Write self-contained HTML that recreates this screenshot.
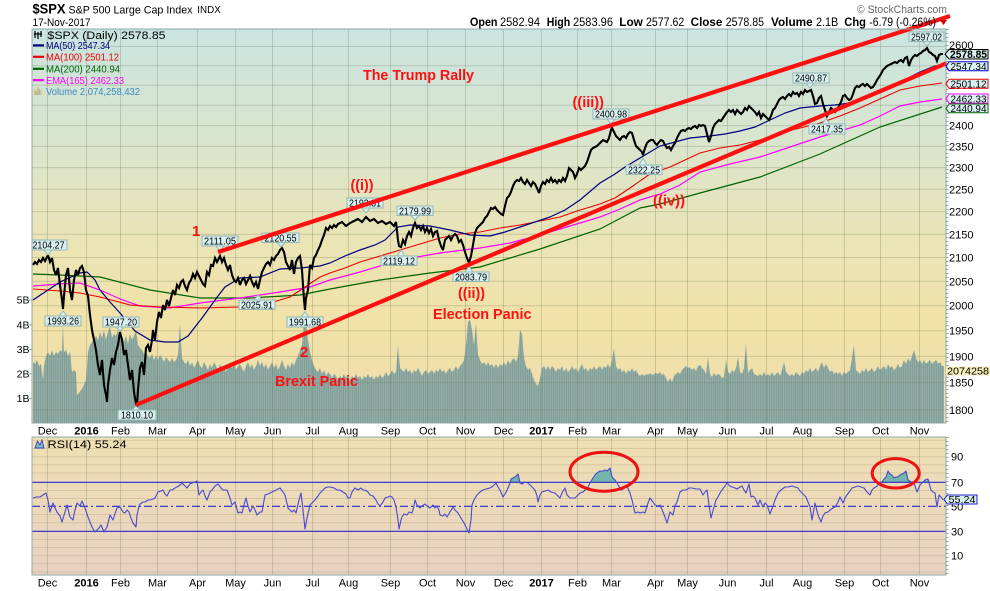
<!DOCTYPE html>
<html><head><meta charset="utf-8"><style>
html,body{margin:0;padding:0;background:#fff;}
svg{display:block;}
text{font-family:"Liberation Sans",Arial,sans-serif;}
</style></head><body>
<svg width="990" height="591" viewBox="0 0 990 591" xmlns="http://www.w3.org/2000/svg">
<defs>
<linearGradient id="mbg" x1="0" y1="0" x2="0" y2="1">
<stop offset="0" stop-color="#c9e4e0"/>
<stop offset="0.3" stop-color="#dbe5cc"/>
<stop offset="0.55" stop-color="#ebe4b5"/>
<stop offset="0.75" stop-color="#f1e2a7"/>
<stop offset="1" stop-color="#eedcaf"/>
</linearGradient>
<linearGradient id="rbg" x1="0" y1="0" x2="0" y2="1">
<stop offset="0" stop-color="#efe0b3"/>
<stop offset="1" stop-color="#e8d2c1"/>
</linearGradient>
<pattern id="vstripe" patternUnits="userSpaceOnUse" width="1.86" height="10">
<rect x="0" y="0" width="1.86" height="10" fill="#7f9d96"/>
<rect x="0" y="0" width="0.6" height="10" fill="#a2b8b2"/>
</pattern>
<clipPath id="mainclip"><rect x="32" y="29" width="914" height="394"/></clipPath>
<clipPath id="obclip"><rect x="32" y="437" width="914" height="45.3"/></clipPath>
</defs>

<rect x="0" y="0" width="990" height="591" fill="#ffffff"/>

<!-- MAIN PANEL -->
<rect x="32" y="29" width="914" height="394" fill="url(#mbg)"/>
<g clip-path="url(#mainclip)">
<!-- volume -->
<polygon fill="url(#vstripe)" points="33,423 33,362 35,364 37,360 39,366 41,364 43,380 44,366 46,356 48,352 50,356 52,350 54,356 56,352 58,354 60,350 62,352 63,325 64,352 66,350 68,356 70,352 72,372 74,370 76,372 77,395 79,393 81,390 83,387 85,382 86,380 88,352 90,345 92,342 94,340 96,336 98,340 100,332 102,338 104,330 106,340 108,332 110,326 112,338 114,334 116,336 118,330 120,340 122,336 124,342 126,336 128,344 130,334 132,340 134,336 136,330 138,345 140,348 142,350 144,354 146,352 148,356 150,358 152,354 154,360 156,356 158,360 160,355 162,358 164,362 166,357 168,360 170,362 172,358 174,362 176,360 178,355 180,323 182,358 184,362 186,364 188,360 190,366 192,362 194,368 196,364 198,360 200,366 202,368 204,362 206,366 208,370 210,364 212,368 214,362 216,366 218,370 220,364 222,368 224,366 226,372 228,366 230,362 232,368 234,364 236,370 238,366 240,364 242,368 244,372 246,366 248,362 250,368 252,364 254,370 256,366 258,360 260,366 262,362 264,368 266,364 268,370 270,366 272,362 274,368 276,364 278,370 280,366 282,360 284,366 286,370 288,364 290,368 292,362 294,366 296,360 298,356 300,350 302,345 304,320 306,322 308,340 310,352 312,360 314,366 316,370 318,372 320,368 322,374 324,370 326,376 328,372 330,374 332,378 334,374 336,376 338,380 340,376 342,378 344,374 346,378 348,376 350,380 352,376 354,378 356,374 358,378 360,376 362,380 364,376 366,378 368,374 370,378 372,376 374,380 376,376 378,378 380,374 382,378 384,376 386,372 388,376 390,374 392,370 394,374 396,372 398,345 400,368 402,370 404,372 406,368 408,372 410,370 412,374 414,370 416,372 418,368 420,372 422,376 424,372 426,370 428,374 430,372 432,370 434,374 436,370 438,372 440,368 442,372 444,370 446,374 448,370 450,368 452,372 454,370 456,366 458,370 460,366 462,364 464,360 466,345 468,322 470,320 472,330 474,345 476,323 478,355 480,360 482,364 484,362 486,366 488,362 490,366 492,364 494,368 496,364 498,368 500,364 502,366 504,362 506,366 508,360 510,364 512,360 514,358 516,362 518,356 520,330 522,334 524,358 526,366 528,370 530,368 532,374 534,380 536,384 538,386 540,378 542,368 544,366 546,370 548,366 550,370 552,366 554,368 556,372 558,368 560,370 562,366 564,372 566,368 568,372 570,370 572,366 574,370 576,368 578,372 580,368 582,364 584,370 586,368 588,372 590,368 592,370 594,366 596,370 598,368 600,366 602,370 604,366 606,368 608,364 610,368 612,360 614,348 616,366 618,370 620,368 622,372 624,370 626,374 628,370 630,372 632,368 634,372 636,370 638,374 640,376 642,374 644,376 646,374 648,375 650,373 652,375 654,374 656,373 658,374 660,372 662,375 664,374 666,378 668,382 670,378 672,382 674,376 676,374 678,372 680,374 682,370 684,368 686,366 688,368 690,367 692,370 694,368 696,371 698,366 700,365 702,368 704,370 706,374 708,357 710,374 712,377 714,373 716,376 718,374 720,375 722,378 724,377 726,360 728,372 730,374 732,370 734,372 736,368 738,357 740,372 742,374 744,368 746,343 748,373 750,370 752,368 754,374 756,375 758,376 760,374 762,376 764,372 766,376 768,374 770,376 772,372 774,376 776,374 778,372 780,376 782,370 784,362 786,372 788,374 790,376 792,374 794,376 796,372 798,374 800,376 802,372 804,374 806,370 808,372 810,368 812,372 814,370 816,368 818,372 820,366 822,362 824,368 826,364 828,368 830,372 832,370 834,374 836,372 838,374 840,372 842,376 844,372 846,374 848,372 850,370 852,358 854,345 856,370 858,372 860,374 862,370 864,372 866,368 868,372 870,370 872,368 874,372 876,370 878,366 880,370 882,368 884,366 886,370 888,364 890,368 892,366 894,370 896,368 898,364 900,368 902,366 904,360 906,364 908,358 910,362 912,356 914,350 916,358 918,362 920,360 922,364 924,360 926,364 928,362 930,360 932,364 934,362 936,360 938,364 940,362 942,366 944,366 944,423"/>

<!-- grid -->
<g stroke="#6b7a5a" stroke-opacity="0.28" stroke-width="1">
<line x1="32" x2="946" y1="46.5" y2="46.5"/><line x1="32" x2="946" y1="65.7" y2="65.7"/><line x1="32" x2="946" y1="85.3" y2="85.3"/><line x1="32" x2="946" y1="105.2" y2="105.2"/><line x1="32" x2="946" y1="125.6" y2="125.6"/><line x1="32" x2="946" y1="146.4" y2="146.4"/><line x1="32" x2="946" y1="167.6" y2="167.6"/><line x1="32" x2="946" y1="189.3" y2="189.3"/><line x1="32" x2="946" y1="211.6" y2="211.6"/><line x1="32" x2="946" y1="234.3" y2="234.3"/><line x1="32" x2="946" y1="257.5" y2="257.5"/><line x1="32" x2="946" y1="281.3" y2="281.3"/><line x1="32" x2="946" y1="305.7" y2="305.7"/><line x1="32" x2="946" y1="330.7" y2="330.7"/><line x1="32" x2="946" y1="356.4" y2="356.4"/><line x1="32" x2="946" y1="382.7" y2="382.7"/><line x1="32" x2="946" y1="409.8" y2="409.8"/>
<line y1="29" y2="423" x1="47.5" x2="47.5"/><line y1="29" y2="423" x1="86.5" x2="86.5"/><line y1="29" y2="423" x1="120.5" x2="120.5"/><line y1="29" y2="423" x1="157.5" x2="157.5"/><line y1="29" y2="423" x1="197.5" x2="197.5"/><line y1="29" y2="423" x1="235.5" x2="235.5"/><line y1="29" y2="423" x1="272.5" x2="272.5"/><line y1="29" y2="423" x1="312.5" x2="312.5"/><line y1="29" y2="423" x1="348.5" x2="348.5"/><line y1="29" y2="423" x1="390.5" x2="390.5"/><line y1="29" y2="423" x1="427.5" x2="427.5"/><line y1="29" y2="423" x1="465.5" x2="465.5"/><line y1="29" y2="423" x1="503.5" x2="503.5"/><line y1="29" y2="423" x1="541.5" x2="541.5"/><line y1="29" y2="423" x1="577.5" x2="577.5"/><line y1="29" y2="423" x1="611.5" x2="611.5"/><line y1="29" y2="423" x1="655.5" x2="655.5"/><line y1="29" y2="423" x1="687.5" x2="687.5"/><line y1="29" y2="423" x1="727.5" x2="727.5"/><line y1="29" y2="423" x1="766.5" x2="766.5"/><line y1="29" y2="423" x1="802.5" x2="802.5"/><line y1="29" y2="423" x1="844.5" x2="844.5"/><line y1="29" y2="423" x1="880.5" x2="880.5"/><line y1="29" y2="423" x1="919.5" x2="919.5"/>
</g>

<!-- moving averages -->
<polyline fill="none" stroke="#006400" stroke-width="1.2" points="33,274 60,275 100,277 150,290 200,298 250,298 300,295 330,289 380,280 430,273 480,267 540,249 600,229 640,208 660,204 700,193 760,177 820,154 880,127 942,107"/>
<polyline fill="none" stroke="#ff00ff" stroke-width="1.2" points="33,286 60,284 80,283 100,290 120,299 140,306 170,308 200,303 240,298 280,292 310,287 330,280 360,272 400,260 440,253 480,248 510,243 540,235 570,226 600,217 620,209 640,200 660,194 680,185 700,172 730,164 760,157 790,147 820,137 840,131 860,125 880,116 900,106 920,102 942,99"/>
<polyline fill="none" stroke="#ee0000" stroke-width="1.1" points="33,289 60,291 80,293 100,297 130,305 160,307 200,308 240,307 270,303 290,297 305,287 320,277 330,273 345,268 360,262 380,256 400,250 420,244 440,238 460,234 480,232 500,228 520,225 540,221 560,217 577,211 600,204 615,198 630,188 650,174 670,167 700,153 720,148 740,145 760,140 780,133 800,128 820,123 840,116 860,108 880,99 900,90 920,86 942,83"/>
<polyline fill="none" stroke="#000080" stroke-width="1.2" points="33,300 45,292 60,282 80,273 87,272 95,280 100,290 110,302 120,313 135,331 150,340 165,342 178,342 188,336 195,327 202,318 210,307 218,296 225,287 240,278 260,277 280,269 300,268 320,266 330,263 345,256 360,250 375,245 385,240 392,233 398,227 410,225 430,226 450,230 470,235 490,236 505,232 520,227 550,217 565,210 580,200 600,183 615,174 625,167 645,155 660,146 675,142 690,138 710,136 725,134 740,131 755,127 770,120 785,113 800,108 810,107 820,106 835,105 850,103 860,100 870,95 885,89 900,82 920,72 935,66 942,65"/>

<!-- price -->
<polyline fill="none" stroke="#000" stroke-width="2.1" stroke-linejoin="miter" stroke-miterlimit="3" points="33,265 35,262 37,264 39,260 41,262 43,258 45,261 47,257 48,255 50,262 52,258 54,270 56,275 58,268 60,285 62,300 63,309 64,296 66,275 68,268 70,290 72,300 74,280 76,270 78,275 80,268 82,266 84,272 86,290 88,296 90,315 92,330 94,340 96,350 98,365 100,375 102,360 104,385 106,395 107,402 108,385 110,370 112,358 114,365 116,352 118,345 120,332 122,340 124,355 126,350 128,365 130,380 132,370 134,392 136,404 137,405 138,390 140,368 142,362 144,375 146,348 148,345 150,352 152,340 153,330 155,340 157,322 159,312 161,318 163,305 165,310 167,300 169,306 171,298 173,290 175,295 177,285 179,288 181,282 183,280 185,286 187,290 189,283 191,280 193,274 195,278 197,272 199,276 201,280 203,284 205,286 207,272 209,275 211,265 213,266 215,258 217,262 219,258 220,256 222,262 224,258 226,265 228,270 230,265 232,275 234,280 236,282 238,278 240,285 242,280 244,278 246,284 248,280 250,276 252,282 254,286 256,282 258,289 260,280 262,272 264,268 266,264 268,262 270,265 272,258 274,260 276,256 278,254 280,250 282,248 284,252 286,262 288,266 290,270 292,260 294,274 296,262 298,258 300,256 302,270 304,300 305,310 306,298 308,290 310,265 312,268 314,258 316,255 318,250 320,246 322,240 324,235 326,228 328,230 330,226 332,228 334,225 336,227 338,224 342,222 346,226 350,223 354,221 358,219 362,222 366,217 370,221 374,219 378,223 382,221 386,224 390,222 394,226 396,222 398,240 399,246 401,247 403,240 405,244 407,236 409,232 411,236 413,228 415,223 417,228 419,226 421,230 423,226 425,232 427,228 429,233 431,229 433,236 435,232 437,231 439,240 441,246 443,250 445,240 447,238 449,236 451,240 453,236 455,234 457,236 459,242 461,240 463,245 465,252 467,258 469,263 471,256 473,245 475,233 477,228 479,226 481,224 483,222 485,218 487,216 489,212 491,208 493,209 495,207 497,210 499,212 501,214 503,215 505,206 507,198 509,196 511,192 513,186 515,182 517,180 519,181 521,178 523,182 525,184 527,180 529,183 531,186 533,182 535,184 537,188 539,193 541,186 543,182 545,184 547,180 549,182 551,178 553,182 555,180 557,183 559,180 561,182 563,178 565,181 567,176 569,168 571,170 573,172 575,178 577,174 579,168 581,170 583,168 585,166 587,162 589,156 591,150 593,148 595,147 597,146 599,144 601,142 603,140 605,141 607,142 609,138 611,130 612,128 614,132 616,136 618,138 620,140 622,137 624,136 626,138 628,134 630,132 632,133 634,140 636,146 638,148 640,150 642,152 643,155 645,148 647,143 649,141 651,140 653,140 655,143 657,145 659,142 661,140 663,141 665,145 667,148 669,147 671,150 673,146 675,143 677,138 679,134 681,131 683,130 685,131 687,129 689,128 691,129 693,127 695,126 697,128 699,125 701,126 703,125 705,126 707,134 709,142 711,136 713,128 715,124 717,122 719,120 721,121 723,118 725,115 727,112 729,110 731,112 733,110 735,114 737,110 739,112 741,114 743,112 745,108 747,110 749,106 751,108 753,110 755,112 757,115 759,112 761,118 763,114 765,116 767,118 769,120 771,116 773,110 775,108 777,104 779,100 781,98 783,97 785,99 787,96 789,94 791,96 793,92 795,94 797,93 799,96 801,92 803,94 805,90 807,92 809,91 811,90 813,96 815,104 817,103 819,98 821,96 823,104 825,110 827,116 829,112 831,108 833,110 835,112 837,110 839,106 841,102 843,96 845,95 847,98 849,100 851,99 853,94 855,88 857,86 859,87 861,85 863,84 865,86 867,84 869,86 871,88 873,87 875,84 877,80 879,77 881,74 883,70 885,68 887,66 889,65 891,64 893,63 895,62 897,63 899,61 901,60 903,62 905,58 907,57 909,66 911,60 913,57 915,55 917,56 919,54 921,53 923,51 925,50 927,48 929,52 931,53 933,55 935,56 937,61 939,55 941,54 943,54"/>

<!-- price label boxes -->
<g font-size="10" fill="#000" text-anchor="middle">
<g fill="#d8f0f0" stroke="#95b6b6" stroke-width="1">
<rect x="30" y="240" width="37" height="10"/><polygon points="44,250 52,250 48,255"/>
<rect x="45" y="316" width="36" height="10"/><polygon points="59,316 67,316 63,311"/>
<rect x="103" y="317" width="36" height="10"/><polygon points="116,327 124,327 120,331"/>
<rect x="118" y="410" width="38" height="10"/><polygon points="132,410 140,410 136,406"/>
<rect x="202" y="236" width="36" height="10"/><polygon points="216,246 224,246 220,251"/>
<rect x="239" y="300" width="36" height="9.5"/><polygon points="254,300 262,300 258,295"/>
<rect x="262" y="233" width="37" height="9.5"/><polygon points="277,242.5 285,242.5 281,247"/>
<rect x="287" y="317" width="36" height="10"/><polygon points="301,317 309,317 305,312"/>
<rect x="347" y="198" width="36" height="10"/><polygon points="362,208 370,208 366,213"/>
<rect x="397" y="206" width="36" height="9.5"/><polygon points="411,215.5 419,215.5 415,220"/>
<rect x="381" y="256" width="36" height="9.5"/><polygon points="397,256 405,256 401,250"/>
<rect x="453" y="272" width="36" height="9.5"/><polygon points="465,272 473,272 469,266"/>
<rect x="593" y="109" width="36" height="10"/><polygon points="607,119 615,119 611,124"/>
<rect x="626" y="165" width="36" height="9.5"/><polygon points="639,165 647,165 643,158"/>
<rect x="793" y="73" width="36" height="10"/><polygon points="806,83 814,83 810,88"/>
<rect x="809" y="124" width="36" height="10"/><polygon points="822,124 830,124 826,119"/>
<rect x="909" y="32" width="35" height="9.5"/><polygon points="923,41.5 931,41.5 927,46"/>
</g>
<g stroke="none">
<text x="48.5" y="248.5" textLength="32" lengthAdjust="spacingAndGlyphs">2104.27</text>
<text x="63" y="324.5" textLength="32" lengthAdjust="spacingAndGlyphs">1993.26</text>
<text x="121" y="325.5" textLength="32" lengthAdjust="spacingAndGlyphs">1947.20</text>
<text x="137" y="418.5" textLength="32" lengthAdjust="spacingAndGlyphs">1810.10</text>
<text x="220" y="244.5" textLength="32" lengthAdjust="spacingAndGlyphs">2111.05</text>
<text x="257" y="308.3" textLength="32" lengthAdjust="spacingAndGlyphs">2025.91</text>
<text x="280.5" y="241.3" textLength="32" lengthAdjust="spacingAndGlyphs">2120.55</text>
<text x="305" y="325.5" textLength="32" lengthAdjust="spacingAndGlyphs">1991.68</text>
<text x="365" y="206.5" textLength="32" lengthAdjust="spacingAndGlyphs">2193.81</text>
<text x="415" y="214.3" textLength="32" lengthAdjust="spacingAndGlyphs">2179.99</text>
<text x="399" y="264.3" textLength="32" lengthAdjust="spacingAndGlyphs">2119.12</text>
<text x="471" y="280.3" textLength="32" lengthAdjust="spacingAndGlyphs">2083.79</text>
<text x="611" y="117.5" textLength="32" lengthAdjust="spacingAndGlyphs">2400.98</text>
<text x="644" y="173.3" textLength="32" lengthAdjust="spacingAndGlyphs">2322.25</text>
<text x="811" y="81.5" textLength="32" lengthAdjust="spacingAndGlyphs">2490.87</text>
<text x="827" y="132.5" textLength="32" lengthAdjust="spacingAndGlyphs">2417.35</text>
<text x="926.5" y="40.3" textLength="31" lengthAdjust="spacingAndGlyphs">2597.02</text>
</g>
</g>
</g>

<!-- trend lines (extend beyond panel top) -->
<line x1="218" y1="252" x2="950" y2="16" stroke="#ff1010" stroke-width="4.2" stroke-linecap="butt"/>
<line x1="136" y1="405" x2="947" y2="63" stroke="#ff1010" stroke-width="4.2" stroke-linecap="butt"/>

<!-- annotations -->
<g fill="#ff1010" font-weight="bold" font-size="15">
<text x="363" y="80" textLength="111" lengthAdjust="spacingAndGlyphs">The Trump Rally</text>
<text x="350.5" y="190" textLength="23" lengthAdjust="spacingAndGlyphs">((i))</text>
<text x="458" y="298" textLength="27" lengthAdjust="spacingAndGlyphs">((ii))</text>
<text x="433" y="319" textLength="98.5" lengthAdjust="spacingAndGlyphs">Election Panic</text>
<text x="572.5" y="107" textLength="31.5" lengthAdjust="spacingAndGlyphs">((iii))</text>
<text x="653" y="205.5" textLength="32" lengthAdjust="spacingAndGlyphs">((iv))</text>
<text x="192" y="236">1</text>
<text x="300" y="357">2</text>
<text x="275" y="386" textLength="83" lengthAdjust="spacingAndGlyphs">Brexit Panic</text>
</g>

<!-- legend -->
<g>
<g stroke="#000" stroke-width="1.2"><line x1="35" y1="31" x2="35" y2="38"/><line x1="38" y1="32" x2="38" y2="39"/><line x1="41" y1="31" x2="41" y2="37"/><line x1="34" y1="34" x2="42" y2="34"/></g>
<text x="47.5" y="39" font-size="11" fill="#000" textLength="118" lengthAdjust="spacingAndGlyphs">$SPX (Daily) 2578.85</text>
<rect x="33" y="44.3" width="11" height="2.2" fill="#000080"/>
<text x="46" y="49" font-size="10" fill="#000080" textLength="64" lengthAdjust="spacingAndGlyphs">MA(50) 2547.34</text>
<rect x="33" y="55.7" width="11" height="2.2" fill="#ee0000"/>
<text x="46" y="60.5" font-size="10" fill="#ee0000" textLength="73" lengthAdjust="spacingAndGlyphs">MA(100) 2501.12</text>
<rect x="33" y="67.7" width="11" height="2.2" fill="#006400"/>
<text x="46" y="72.5" font-size="10" fill="#006400" textLength="74" lengthAdjust="spacingAndGlyphs">MA(200) 2440.94</text>
<rect x="33" y="79" width="11" height="2.2" fill="#ff00ff"/>
<text x="46" y="84" font-size="10" fill="#ff00ff" textLength="78" lengthAdjust="spacingAndGlyphs">EMA(165) 2462.33</text>
<g fill="#e8c060"><rect x="34" y="89" width="1.5" height="6"/><rect x="37" y="87" width="1.5" height="8"/><rect x="40" y="90" width="1.5" height="5"/></g>
<g fill="#7fb0c8"><rect x="35.5" y="91" width="1.2" height="4"/><rect x="38.5" y="89" width="1.2" height="6"/></g>
<text x="46" y="95" font-size="10" fill="#3c8cc0" textLength="94" lengthAdjust="spacingAndGlyphs">Volume 2,074,258,432</text>
</g>

<!-- main panel border -->
<rect x="32" y="29" width="914" height="394" fill="none" stroke="#8fa8a8" stroke-width="1"/>
<line x1="947.5" y1="29" x2="947.5" y2="423" stroke="#8fa8a8" stroke-width="2" stroke-dasharray="1 3"/>

<!-- volume axis labels -->
<g font-size="10.5" fill="#000" text-anchor="end">
<text x="29.5" y="303.5">5B</text><text x="29.5" y="328.5">4B</text><text x="29.5" y="353">3B</text><text x="29.5" y="377.5">2B</text><text x="29.5" y="402">1B</text>
</g>
<g stroke="#8fa8a8"><line x1="29" x2="32" y1="300" y2="300"/><line x1="29" x2="32" y1="325" y2="325"/><line x1="29" x2="32" y1="349.5" y2="349.5"/><line x1="29" x2="32" y1="374" y2="374"/><line x1="29" x2="32" y1="398.5" y2="398.5"/></g>

<!-- price axis labels -->
<g font-size="11" fill="#000">
<text x="949" y="49">2600</text>
<text x="949" y="69.5">2550</text>
<text x="949" y="89">2500</text>
<text x="949" y="109">2450</text>
<text x="949" y="129.6">2400</text>
<text x="949" y="150.4">2350</text>
<text x="949" y="171.6">2300</text>
<text x="949" y="193.3">2250</text>
<text x="949" y="215.6">2200</text>
<text x="949" y="238.3">2150</text>
<text x="949" y="261.5">2100</text>
<text x="949" y="285.3">2050</text>
<text x="949" y="309.7">2000</text>
<text x="949" y="334.7">1950</text>
<text x="949" y="360.4">1900</text>
<text x="949" y="386.7">1850</text>
<text x="949" y="413.8">1800</text>
</g>

<!-- right value boxes -->
<g font-size="10.5">
<polygon points="945,54.2 949,49.5 988,49.5 988,59 949,59" fill="#d8f0f0" stroke="#000" stroke-width="1"/>
<text x="968.5" y="58" text-anchor="middle" font-weight="bold" font-size="11" textLength="37" lengthAdjust="spacingAndGlyphs">2578.85</text>
<polygon points="946,66.2 949,61.7 988,61.7 988,70.7 949,70.7" fill="#d8f0f0" stroke="#0000cc" stroke-width="1"/>
<text x="968.5" y="70" text-anchor="middle" textLength="36" lengthAdjust="spacingAndGlyphs">2547.34</text>
<polygon points="946,83.8 949,79.3 988,79.3 988,88.3 949,88.3" fill="#d8f0f0" stroke="#ee0000" stroke-width="1"/>
<text x="968.5" y="87.6" text-anchor="middle" textLength="36" lengthAdjust="spacingAndGlyphs">2501.12</text>
<polygon points="946,98.7 949,94 988,94 988,103.3 949,103.3" fill="#d8f0f0" stroke="#ff00ff" stroke-width="1"/>
<text x="968.5" y="102.5" text-anchor="middle" textLength="36" lengthAdjust="spacingAndGlyphs">2462.33</text>
<polygon points="946,108.4 949,104 988,104 988,112.7 949,112.7" fill="#d8f0f0" stroke="#006400" stroke-width="1"/>
<text x="968.5" y="112" text-anchor="middle" textLength="36" lengthAdjust="spacingAndGlyphs">2440.94</text>
<rect x="946" y="366.5" width="44" height="9" fill="#f7eebb"/>
<text x="968" y="374.5" text-anchor="middle" textLength="42" lengthAdjust="spacingAndGlyphs">2074258</text>
</g>

<!-- header -->
<text x="32.5" y="13.5" font-size="14" font-weight="bold" textLength="33" lengthAdjust="spacingAndGlyphs">$SPX</text>
<text x="68.5" y="13.3" font-size="11" textLength="124" lengthAdjust="spacingAndGlyphs">S&amp;P 500 Large Cap Index</text>
<text x="197.3" y="13" font-size="10" textLength="23.5" lengthAdjust="spacingAndGlyphs">INDX</text>
<text x="32.5" y="26" font-size="11" textLength="58" lengthAdjust="spacingAndGlyphs">17-Nov-2017</text>
<text x="857" y="13" font-size="11" fill="#666" textLength="90" lengthAdjust="spacingAndGlyphs">© StockCharts.com</text>
<g font-size="11.5" fill="#000">
<text x="470" y="26" font-weight="bold" textLength="27.5" lengthAdjust="spacingAndGlyphs">Open</text>
<text x="500" y="26" textLength="40" lengthAdjust="spacingAndGlyphs">2582.94</text>
<text x="546.7" y="26" font-weight="bold" textLength="23.5" lengthAdjust="spacingAndGlyphs">High</text>
<text x="573" y="26" textLength="40" lengthAdjust="spacingAndGlyphs">2583.96</text>
<text x="619.3" y="26" font-weight="bold" textLength="23.5" lengthAdjust="spacingAndGlyphs">Low</text>
<text x="646" y="26" textLength="38.3" lengthAdjust="spacingAndGlyphs">2577.62</text>
<text x="690.7" y="26" font-weight="bold" textLength="31.6" lengthAdjust="spacingAndGlyphs">Close</text>
<text x="725.7" y="26" textLength="38.3" lengthAdjust="spacingAndGlyphs">2578.85</text>
<text x="771" y="26" font-weight="bold" textLength="41.7" lengthAdjust="spacingAndGlyphs">Volume</text>
<text x="816" y="26" textLength="22.3" lengthAdjust="spacingAndGlyphs">2.1B</text>
<text x="844.3" y="26" font-weight="bold" textLength="21.7" lengthAdjust="spacingAndGlyphs">Chg</text>
<text x="869.3" y="26" textLength="66.7" lengthAdjust="spacingAndGlyphs">-6.79 (-0.26%)</text>
</g>
<polygon points="940,20 947,20 943.5,25" fill="#cc0000"/>

<!-- x axis labels (between panels) -->
<g font-size="11" fill="#000" text-anchor="middle">
<text x="47.5" y="434.5">Dec</text><text x="86.5" y="434.5" font-weight="bold">2016</text><text x="120.5" y="434.5">Feb</text><text x="157.5" y="434.5">Mar</text><text x="197.5" y="434.5">Apr</text><text x="235.5" y="434.5">May</text><text x="272.5" y="434.5">Jun</text><text x="312.5" y="434.5">Jul</text><text x="348.5" y="434.5">Aug</text><text x="390.5" y="434.5">Sep</text><text x="427.5" y="434.5">Oct</text><text x="465.5" y="434.5">Nov</text><text x="503.5" y="434.5">Dec</text><text x="541.5" y="434.5" font-weight="bold">2017</text><text x="577.5" y="434.5">Feb</text><text x="611.5" y="434.5">Mar</text><text x="655.5" y="434.5">Apr</text><text x="687.5" y="434.5">May</text><text x="727.5" y="434.5">Jun</text><text x="766.5" y="434.5">Jul</text><text x="802.5" y="434.5">Aug</text><text x="844.5" y="434.5">Sep</text><text x="880.5" y="434.5">Oct</text><text x="919.5" y="434.5">Nov</text>
</g>

<!-- RSI PANEL -->
<rect x="32" y="437" width="914" height="138" fill="url(#rbg)"/>
<g stroke="#7a6a40" stroke-opacity="0.18" stroke-width="1">
<line x1="32" x2="946" y1="440.3" y2="440.3"/><line x1="32" x2="946" y1="448.5" y2="448.5"/><line x1="32" x2="946" y1="456.7" y2="456.7"/><line x1="32" x2="946" y1="464.8" y2="464.8"/><line x1="32" x2="946" y1="473" y2="473"/><line x1="32" x2="946" y1="490.5" y2="490.5"/><line x1="32" x2="946" y1="498.5" y2="498.5"/><line x1="32" x2="946" y1="514.5" y2="514.5"/><line x1="32" x2="946" y1="522.8" y2="522.8"/><line x1="32" x2="946" y1="539.5" y2="539.5"/><line x1="32" x2="946" y1="547.5" y2="547.5"/><line x1="32" x2="946" y1="555.7" y2="555.7"/><line x1="32" x2="946" y1="563.8" y2="563.8"/><line x1="32" x2="946" y1="572" y2="572"/>
</g>
<g stroke="#6b7a5a" stroke-opacity="0.28" stroke-width="1">
<line y1="437" y2="575" x1="47.5" x2="47.5"/><line y1="437" y2="575" x1="86.5" x2="86.5"/><line y1="437" y2="575" x1="120.5" x2="120.5"/><line y1="437" y2="575" x1="157.5" x2="157.5"/><line y1="437" y2="575" x1="197.5" x2="197.5"/><line y1="437" y2="575" x1="235.5" x2="235.5"/><line y1="437" y2="575" x1="272.5" x2="272.5"/><line y1="437" y2="575" x1="312.5" x2="312.5"/><line y1="437" y2="575" x1="348.5" x2="348.5"/><line y1="437" y2="575" x1="390.5" x2="390.5"/><line y1="437" y2="575" x1="427.5" x2="427.5"/><line y1="437" y2="575" x1="465.5" x2="465.5"/><line y1="437" y2="575" x1="503.5" x2="503.5"/><line y1="437" y2="575" x1="541.5" x2="541.5"/><line y1="437" y2="575" x1="577.5" x2="577.5"/><line y1="437" y2="575" x1="611.5" x2="611.5"/><line y1="437" y2="575" x1="655.5" x2="655.5"/><line y1="437" y2="575" x1="687.5" x2="687.5"/><line y1="437" y2="575" x1="727.5" x2="727.5"/><line y1="437" y2="575" x1="766.5" x2="766.5"/><line y1="437" y2="575" x1="802.5" x2="802.5"/><line y1="437" y2="575" x1="844.5" x2="844.5"/><line y1="437" y2="575" x1="880.5" x2="880.5"/><line y1="437" y2="575" x1="919.5" x2="919.5"/>
</g>
<!-- overbought fill -->
<g clip-path="url(#obclip)">
<polygon fill="#74b5ac" points="33,482.3 33,498 36,497 40,497 43,495 46,493 48,500 50,512 53,503 55,508 57,512 60,516 62,522 65,512 67,505 70,517 73,520 75,510 77,503 80,506 82,501 85,508 88,517 90,522 92,527 95,532 97,530 99,528 101,525 104,532 107,527 110,515 113,520 115,514 117,508 120,507 123,512 125,513 127,510 129,512 131,518 133,523 136,527 137,515 139,506 140,504 143,502 145,502 148,500 150,500 153,499 155,498 158,492 161,491 163,490 165,494 167,496 170,490 172,490 175,488 177,487 180,485 182,483 185,486 187,488 190,484 192,483 195,482 197,481 199,495 201,492 203,490 205,496 207,500 210,492 212,490 215,486 218,484 221,488 223,490 225,490 227,490 230,498 232,505 235,502 238,513 240,512 242,513 244,505 246,498 248,506 250,512 253,506 255,510 257,515 260,512 262,512 265,495 268,494 272,492 276,490 280,488 283,492 285,495 288,508 290,510 292,512 294,510 296,513 299,500 301,493 303,510 305,529 307,518 310,505 313,502 315,500 318,496 320,493 323,490 325,488 328,487 330,487 334,488 337,490 340,490 343,492 346,494 348,498 350,498 352,492 355,488 358,490 361,488 363,490 365,490 368,492 370,495 373,496 376,500 378,504 380,506 383,502 385,498 388,497 390,496 392,497 394,500 396,507 398,520 399,529 401,520 402,517 404,514 407,515 409,512 412,513 414,506 415,500 417,505 420,508 422,506 425,504 427,506 430,508 433,505 435,508 437,506 439,510 440,515 443,516 445,514 447,517 450,512 453,507 455,510 458,513 461,518 464,523 466,527 469,533 471,520 472,505 474,500 477,495 480,492 483,490 486,489 490,488 493,486 496,483 498,487 500,490 503,497 505,494 508,488 510,483 511,479 513,478 515,477 518,474 519,478 520,483 522,484 525,482 528,483 530,485 532,487 535,490 537,496 538,502 540,495 542,492 545,491 548,490 551,492 555,493 558,496 560,498 562,493 565,488 567,495 570,498 573,498 575,498 578,495 580,493 583,492 585,490 588,487 590,483 593,478 595,475 597,473 600,471 603,471 605,470 607,471 610,468 612,477 615,480 617,483 620,488 622,490 625,487 627,486 630,493 632,500 635,513 638,512 640,513 643,512 645,513 648,503 650,498 653,502 655,505 658,506 660,505 663,512 665,517 667,523 670,512 673,515 675,506 677,502 680,492 683,490 686,490 689,488 692,488 696,489 700,489 703,495 705,492 707,490 709,505 711,518 714,507 716,500 718,497 720,493 722,490 725,486 727,483 730,486 732,487 735,488 737,489 740,487 742,486 744,490 746,493 749,484 751,497 753,496 755,498 758,505 760,500 763,507 765,503 767,505 770,514 773,506 775,500 778,493 781,490 785,487 788,487 792,486 795,487 798,488 800,491 802,493 806,497 808,502 810,507 812,520 815,503 818,515 821,522 823,516 825,513 828,512 830,510 833,508 835,507 838,502 840,497 843,503 845,498 847,495 850,491 852,488 855,487 858,486 861,487 864,488 867,492 870,495 872,490 874,488 876,487 878,485 880,483 882,482 884,479 886,477 888,471 890,474 892,475 894,478 896,477 898,477 900,475 902,474 904,473 906,471 908,480 911,482 914,483 917,492 920,485 922,483 925,480 928,479 931,490 933,492 935,493 937,507 939,495 941,497 943,500 943,482.3"/>
</g>
<!-- RSI level lines -->
<line x1="32" x2="946" y1="482.3" y2="482.3" stroke="#2a2ac8" stroke-width="1.1"/>
<line x1="32" x2="946" y1="531.3" y2="531.3" stroke="#2a2ac8" stroke-width="1.1"/>
<line x1="32" x2="946" y1="506.3" y2="506.3" stroke="#2a2ac8" stroke-width="1.1" stroke-dasharray="8 3 2 3"/>
<!-- RSI line -->
<polyline fill="none" stroke="#4848d0" stroke-width="1.1" stroke-linejoin="round" points="33,498 36,497 40,497 43,495 46,493 48,500 50,512 53,503 55,508 57,512 60,516 62,522 65,512 67,505 70,517 73,520 75,510 77,503 80,506 82,501 85,508 88,517 90,522 92,527 95,532 97,530 99,528 101,525 104,532 107,527 110,515 113,520 115,514 117,508 120,507 123,512 125,513 127,510 129,512 131,518 133,523 136,527 137,515 139,506 140,504 143,502 145,502 148,500 150,500 153,499 155,498 158,492 161,491 163,490 165,494 167,496 170,490 172,490 175,488 177,487 180,485 182,483 185,486 187,488 190,484 192,483 195,482 197,481 199,495 201,492 203,490 205,496 207,500 210,492 212,490 215,486 218,484 221,488 223,490 225,490 227,490 230,498 232,505 235,502 238,513 240,512 242,513 244,505 246,498 248,506 250,512 253,506 255,510 257,515 260,512 262,512 265,495 268,494 272,492 276,490 280,488 283,492 285,495 288,508 290,510 292,512 294,510 296,513 299,500 301,493 303,510 305,529 307,518 310,505 313,502 315,500 318,496 320,493 323,490 325,488 328,487 330,487 334,488 337,490 340,490 343,492 346,494 348,498 350,498 352,492 355,488 358,490 361,488 363,490 365,490 368,492 370,495 373,496 376,500 378,504 380,506 383,502 385,498 388,497 390,496 392,497 394,500 396,507 398,520 399,529 401,520 402,517 404,514 407,515 409,512 412,513 414,506 415,500 417,505 420,508 422,506 425,504 427,506 430,508 433,505 435,508 437,506 439,510 440,515 443,516 445,514 447,517 450,512 453,507 455,510 458,513 461,518 464,523 466,527 469,533 471,520 472,505 474,500 477,495 480,492 483,490 486,489 490,488 493,486 496,483 498,487 500,490 503,497 505,494 508,488 510,483 511,479 513,478 515,477 518,474 519,478 520,483 522,484 525,482 528,483 530,485 532,487 535,490 537,496 538,502 540,495 542,492 545,491 548,490 551,492 555,493 558,496 560,498 562,493 565,488 567,495 570,498 573,498 575,498 578,495 580,493 583,492 585,490 588,487 590,483 593,478 595,475 597,473 600,471 603,471 605,470 607,471 610,468 612,477 615,480 617,483 620,488 622,490 625,487 627,486 630,493 632,500 635,513 638,512 640,513 643,512 645,513 648,503 650,498 653,502 655,505 658,506 660,505 663,512 665,517 667,523 670,512 673,515 675,506 677,502 680,492 683,490 686,490 689,488 692,488 696,489 700,489 703,495 705,492 707,490 709,505 711,518 714,507 716,500 718,497 720,493 722,490 725,486 727,483 730,486 732,487 735,488 737,489 740,487 742,486 744,490 746,493 749,484 751,497 753,496 755,498 758,505 760,500 763,507 765,503 767,505 770,514 773,506 775,500 778,493 781,490 785,487 788,487 792,486 795,487 798,488 800,491 802,493 806,497 808,502 810,507 812,520 815,503 818,515 821,522 823,516 825,513 828,512 830,510 833,508 835,507 838,502 840,497 843,503 845,498 847,495 850,491 852,488 855,487 858,486 861,487 864,488 867,492 870,495 872,490 874,488 876,487 878,485 880,483 882,482 884,479 886,477 888,471 890,474 892,475 894,478 896,477 898,477 900,475 902,474 904,473 906,471 908,480 911,482 914,483 917,492 920,485 922,483 925,480 928,479 931,490 933,492 935,493 937,507 939,495 941,497 943,500"/>
<!-- red ellipses -->
<ellipse cx="604" cy="471.7" rx="34" ry="19.5" fill="none" stroke="#ee1111" stroke-width="3"/>
<ellipse cx="895.7" cy="473.3" rx="23.5" ry="14.7" fill="none" stroke="#ee1111" stroke-width="3"/>
<!-- RSI legend -->
<polygon points="35,448 37.5,441 40,445 42,440 44,448" fill="#7fbfb5" stroke="#3a3ad0" stroke-width="0.9"/>
<text x="47.5" y="448" font-size="11" fill="#000" textLength="79" lengthAdjust="spacingAndGlyphs">RSI(14) 55.24</text>
<rect x="32" y="437" width="914" height="138" fill="none" stroke="#8fa8a8" stroke-width="1"/>
<line x1="947.5" y1="437" x2="947.5" y2="575" stroke="#8fa8a8" stroke-width="2" stroke-dasharray="1 3"/>
<!-- RSI axis labels -->
<g font-size="11" fill="#000">
<text x="951" y="460.7">90</text><text x="951" y="486.3">70</text><text x="951" y="510.3">50</text><text x="951" y="535.3">30</text><text x="951" y="559.7">10</text>
</g>
<polygon points="944,499.5 947.5,495 977,495 977,504 947.5,504" fill="#d8f0f0" stroke="#2020d0" stroke-width="1"/>
<text x="962" y="503" font-size="10.5" text-anchor="middle" textLength="27" lengthAdjust="spacingAndGlyphs">55.24</text>

<!-- bottom x labels -->
<g font-size="11" fill="#000" text-anchor="middle">
<text x="47.5" y="586.5">Dec</text><text x="86.5" y="586.5" font-weight="bold">2016</text><text x="120.5" y="586.5">Feb</text><text x="157.5" y="586.5">Mar</text><text x="197.5" y="586.5">Apr</text><text x="235.5" y="586.5">May</text><text x="272.5" y="586.5">Jun</text><text x="312.5" y="586.5">Jul</text><text x="348.5" y="586.5">Aug</text><text x="390.5" y="586.5">Sep</text><text x="427.5" y="586.5">Oct</text><text x="465.5" y="586.5">Nov</text><text x="503.5" y="586.5">Dec</text><text x="541.5" y="586.5" font-weight="bold">2017</text><text x="577.5" y="586.5">Feb</text><text x="611.5" y="586.5">Mar</text><text x="655.5" y="586.5">Apr</text><text x="687.5" y="586.5">May</text><text x="727.5" y="586.5">Jun</text><text x="766.5" y="586.5">Jul</text><text x="802.5" y="586.5">Aug</text><text x="844.5" y="586.5">Sep</text><text x="880.5" y="586.5">Oct</text><text x="919.5" y="586.5">Nov</text>
</g>
</svg>
</body></html>
